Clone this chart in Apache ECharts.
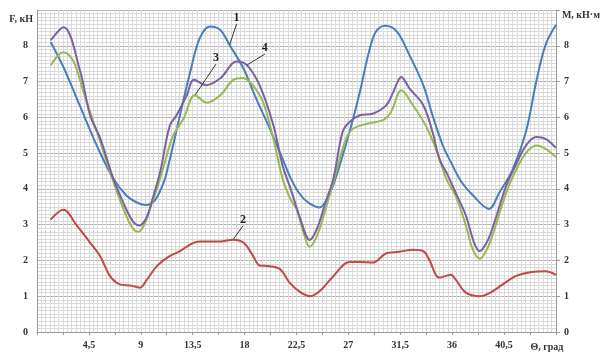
<!DOCTYPE html>
<html><head><meta charset="utf-8">
<script src="https://cdn.jsdelivr.net/npm/echarts@6/dist/echarts.min.js"></script>
<style>html,body{margin:0;padding:0;background:#fff}#c{width:603px;height:354px}</style>
</head><body><div id="c"></div>
<script>
// Curve 1 (blue)
const curve1 = [[1.2,8.1],[2.3,7.4],[3.75,6.3],[5.2,5.2],[6.6,4.3],[7.8,3.8],[8.65,3.62],[9.4,3.55],[10.2,3.67],[11.0,4.19],[11.5,4.8],[12.4,6.06],[13.3,7.28],[14.1,8.2],[15.0,8.54],[15.9,8.44],[16.7,8.02],[17.9,7.37],[19.0,6.53],[20.2,5.68],[21.3,4.84],[22.0,4.3],[22.8,3.85],[23.6,3.6],[24.5,3.48],[25.2,3.75],[25.9,4.3],[27.1,5.59],[28.0,6.71],[28.8,7.84],[29.4,8.4],[30.2,8.56],[31.2,8.4],[32.3,7.74],[33.5,6.9],[34.3,6.06],[35.2,5.21],[36.0,4.68],[36.8,4.2],[37.8,3.82],[39.2,3.44],[40.1,3.9],[41.2,4.5],[42.4,5.59],[43.3,7.0],[44.1,8.02],[45,8.58]];
// Curve 2 (red)
const curve2 = [[1.2,3.15],[2.3,3.42],[3.46,2.97],[4.6,2.5],[5.48,2.12],[6.34,1.56],[7.2,1.33],[8.07,1.3],[8.94,1.24],[9.5,1.45],[10.4,1.84],[11.5,2.12],[12.4,2.26],[13.3,2.45],[14.1,2.53],[15.9,2.53],[17.0,2.58],[17.9,2.5],[18.7,2.15],[19.3,1.86],[20.2,1.84],[21.1,1.75],[21.9,1.38],[22.8,1.12],[23.65,1.0],[24.5,1.14],[25.7,1.56],[27.1,1.96],[28.0,1.96],[29.1,1.94],[30.3,2.2],[31.4,2.24],[32.6,2.3],[33.5,2.26],[34.0,2.03],[34.9,1.52],[35.9,1.6],[36.3,1.47],[37.2,1.1],[38.4,1.0],[39.2,1.08],[40.4,1.33],[41.5,1.56],[42.9,1.68],[44.1,1.7],[45,1.6]];
// Curve 3 (green)
const curve3 = [[1.2,7.46],[2.3,7.82],[3.17,7.56],[4.03,6.71],[5.2,5.59],[6.34,4.47],[7.3,3.6],[8.2,2.95],[8.8,2.8],[9.3,3.0],[9.8,3.44],[10.67,4.28],[11.25,4.93],[11.8,5.49],[12.7,5.96],[13.7,6.62],[14.7,6.41],[15.9,6.62],[17.0,7.04],[17.9,7.1],[18.7,6.9],[19.6,6.43],[20.5,5.4],[21.3,4.28],[22.0,3.7],[22.5,3.44],[23.0,2.9],[23.65,2.38],[24.3,2.7],[25.0,3.4],[25.8,4.3],[26.8,5.4],[27.4,5.68],[28.6,5.82],[30.0,5.92],[30.7,6.15],[31.6,6.76],[32.6,6.34],[33.7,5.78],[34.6,5.12],[35.5,4.28],[36.3,3.81],[37.2,2.97],[37.8,2.3],[38.4,2.05],[39.0,2.3],[39.5,2.7],[40.7,3.9],[41.5,4.5],[42.4,5.0],[43.3,5.21],[44.1,5.12],[45,4.89]];
// Curve 4 (purple)
const curve4 = [[1.2,8.16],[2.3,8.52],[3.75,7.28],[4.6,6.06],[5.5,5.4],[6.6,4.3],[7.5,3.6],[8.3,3.1],[8.9,2.98],[9.5,3.2],[10.0,3.7],[10.7,4.5],[11.5,5.75],[12.1,6.06],[13.0,6.62],[13.6,7.05],[14.7,6.9],[15.9,7.09],[17.3,7.56],[18.2,7.46],[19.3,6.9],[20.5,5.78],[21.3,4.65],[22.0,4.0],[22.8,3.2],[23.65,2.57],[24.3,2.9],[25.0,3.6],[25.7,4.28],[26.5,5.59],[27.1,5.87],[28.0,6.06],[29.1,6.1],[30.3,6.34],[30.9,6.71],[31.6,7.13],[32.3,6.81],[33.5,6.34],[34.3,5.59],[34.9,4.84],[35.6,4.4],[36.3,3.9],[37.2,3.25],[37.9,2.5],[38.4,2.26],[39.0,2.5],[39.5,2.9],[40.7,4.09],[41.5,4.65],[42.4,5.21],[43.3,5.45],[44.1,5.4],[45,5.15]];

const xTickStep = 2.25, xLabelStep = 4.5, xMax = 45;
const yTickLabels = ['0','1','2','3','4','5','6','7','8'];
// which point of each curve carries its number label
const labelIdx = {c1: 16, c2: 16, c3: 15, c4: 19};

const serif = '"Liberation Serif","DejaVu Serif",serif';
const chart = echarts.init(document.getElementById('c'), null, {renderer: 'canvas'});

function mkSeries(name, data, color, idx, num, dx, dy, yAxisIndex) {
  return {
    name, type: 'line', data: data.map((p, i) => i === idx ? {
      value: p,
      label: {show: true, formatter: num, position: 'inside', fontFamily: serif, fontWeight: 'bold', fontSize: 12, color: '#222'},
      labelLine: {show: true, lineStyle: {color: '#333', width: 1}}
    } : p),
    yAxisIndex: yAxisIndex || 0,
    smooth: 0.35,
    symbol: 'circle', symbolSize: 1, showSymbol: true,
    itemStyle: {color},
    lineStyle: {color, width: 2},
    labelLayout: {dx, dy},
    z: 3, silent: true, animation: false
  };
}

const minorGrid = '#dadada', majorGrid = '#b3b3b3';
const labelStyle = {fontFamily: serif, fontWeight: 'bold', fontSize: 10, color: '#333'};

chart.setOption({
  backgroundColor: '#fff',
  animation: false,
  grid: {left: 37, right: 46, top: 10, bottom: 22, containLabel: false},
  xAxis: {
    type: 'value', min: 0, max: xMax, interval: xTickStep,
    name: 'Θ, град', nameLocation: 'end', nameGap: -9,
    nameTextStyle: {fontFamily: serif, fontWeight: 'bold', fontSize: 10, color: '#333', align: 'center', verticalAlign: 'top', padding: [10, 0, 0, 0]},
    axisLine: {show: true, lineStyle: {color: '#999', width: 1}},
    axisTick: {show: true, length: 3, lineStyle: {color: '#999'}},
    axisLabel: Object.assign({}, labelStyle, {margin: 8, formatter: v => {
      if (v <= 0 || v >= xMax) return '';
      const r = v / xLabelStep;
      return Math.abs(r - Math.round(r)) < 1e-6 ? String(v).replace('.', ',') : '';
    }}),
    splitLine: {show: true, lineStyle: {color: minorGrid, width: 1}},
    minorTick: {show: false, splitNumber: 6},
    minorSplitLine: {show: true, lineStyle: {color: minorGrid, width: 1}}
  },
  yAxis: [{
    type: 'value', min: 0, max: 9, interval: 1, position: 'left',
    name: 'F, кН', nameLocation: 'end', nameGap: -9,
    nameTextStyle: {fontFamily: serif, fontWeight: 'bold', fontSize: 10, color: '#333', align: 'right', verticalAlign: 'middle', padding: [0, 4, 0, 0]},
    axisLine: {show: true, lineStyle: {color: '#999'}},
    axisTick: {show: false},
    axisLabel: Object.assign({}, labelStyle, {margin: 9, formatter: v => yTickLabels[v] || ''}),
    splitLine: {show: true, lineStyle: {color: majorGrid, width: 1}},
    minorTick: {show: false, splitNumber: 10},
    minorSplitLine: {show: true, lineStyle: {color: minorGrid, width: 1}}
  }, {
    type: 'value', min: 0, max: 9, interval: 1, position: 'right',
    name: 'M, кН·м', nameLocation: 'end', nameGap: -5,
    nameTextStyle: {fontFamily: serif, fontWeight: 'bold', fontSize: 10, color: '#333', align: 'left', verticalAlign: 'middle', padding: [0, 0, 0, 6]},
    axisLine: {show: true, lineStyle: {color: '#999'}},
    axisTick: {show: true, length: 4, lineStyle: {color: '#999'}},
    axisLabel: Object.assign({}, labelStyle, {margin: 8, formatter: v => yTickLabels[v] || ''}),
    splitLine: {show: false}
  }],
  series: [
    mkSeries('1', curve1, '#4a7ebb', labelIdx.c1, '1', 7, -27),
    mkSeries('2', curve2, '#be4b48', labelIdx.c2, '2', 10, -20),
    mkSeries('3', curve3, '#98b954', labelIdx.c3, '3', 21, -37),
    mkSeries('4', curve4, '#7d60a0', labelIdx.c4, '4', 18, -17)
  ]
});
</script>
</body></html>
